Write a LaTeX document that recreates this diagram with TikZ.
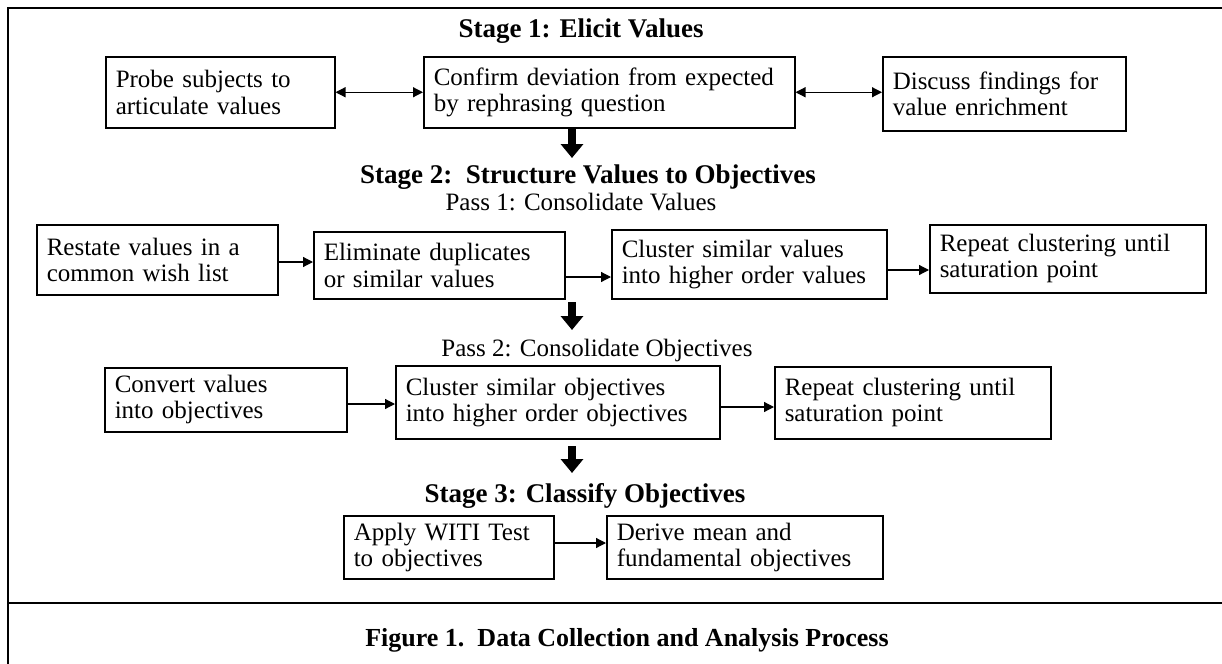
\documentclass[tikz,border=0pt]{standalone}
\usepackage{fontspec}
\setmainfont{Liberation Serif}
\usetikzlibrary{arrows.meta}
\newcommand{\boxfont}{\fontsize{12.5}{13.2}\selectfont}
\newcommand{\headfont}{\fontsize{13.5}{15}\selectfont\bfseries}
\begin{document}
\begin{tikzpicture}[x=0.5pt, y=-0.5pt,
  box/.style={draw, line width=0.75pt, anchor=north west, align=left, inner xsep=5pt, inner ysep=0pt, font=\boxfont},
  head/.style={font=\headfont, inner sep=0pt},
  pass/.style={font=\boxfont, inner sep=0pt},
  frame/.style={line width=1.3pt},
  arr/.style={line width=0.6pt, -{Triangle[length=5pt,width=5pt]}},
  dblarr/.style={line width=0.6pt, {Triangle[length=5pt,width=5pt]}-{Triangle[length=5pt,width=5pt]}},
  bigarr/.style={line width=4pt, -{Triangle[length=7pt,width=11pt]}}]
\useasboundingbox (0,0) rectangle (1222,664);
\draw[frame] (1222,8) -- (8,8) -- (8,664);
\draw[frame] (8,603) -- (1222,603);
\node[head] (stage1) at (581,31) {Stage 1: Elicit Values};
\node[box, text width=104.5pt, minimum height=35.5pt] (probe) at (105,56) {Probe subjects to\\articulate values};
\node[box, text width=175.5pt, minimum height=35.5pt] (confirm) at (423,56) {Confirm deviation from expected\\by rephrasing question};
\node[box, text width=111.5pt, minimum height=37pt] (discuss) at (882,56) {Discuss findings for\\value enrichment};
\draw[dblarr] (probe) -- (confirm);
\draw[dblarr] (confirm.east) -- (confirm.east -| discuss.west);
\coordinate (d1a) at (572,127);
\coordinate (d1b) at (572,158);
\draw[bigarr] (d1a) -- (d1b);
\node[head] (stage2) at (588,177) {Stage 2:\ \ Structure Values to Objectives};
\node[pass] (pass1) at (581,202) {Pass 1: Consolidate Values};
\node[box, text width=110.5pt, minimum height=35pt] (restate) at (36,224) {Restate values in a\\common wish list};
\node[box, text width=115.5pt, minimum height=33.5pt] (eliminate) at (313,231) {Eliminate duplicates\\or similar values};
\node[box, text width=127.5pt, minimum height=34.5pt] (clustval) at (611,229) {Cluster similar values\\into higher order values};
\node[box, text width=128pt, minimum height=34pt] (repeatval) at (929,224) {Repeat clustering until\\saturation point};
\draw[arr] (restate.east |- 0,262) -- (eliminate.west |- 0,262);
\draw[arr] (eliminate.east |- 0,277) -- (clustval.west |- 0,277);
\draw[arr] (clustval.east |- 0,270) -- (repeatval.west |- 0,270);
\coordinate (d2a) at (572,302);
\coordinate (d2b) at (572,330);
\draw[bigarr] (d2a) -- (d2b);
\node[pass] (pass2) at (597,350) {Pass 2: Consolidate Objectives};
\node[box, text width=111pt, minimum height=32pt] (convert) at (104,367) {Convert values\\into objectives};
\node[box, text width=152pt, minimum height=36.5pt] (clustobj) at (395,365) {Cluster similar objectives\\into higher order objectives};
\node[box, text width=128pt, minimum height=36pt] (repeatobj) at (774,366) {Repeat clustering until\\saturation point};
\draw[arr] (convert.east |- 0,404) -- (clustobj.west |- 0,404);
\draw[arr] (clustobj.east |- 0,407) -- (repeatobj.west |- 0,407);
\coordinate (d3a) at (572,446);
\coordinate (d3b) at (572,473);
\draw[bigarr] (d3a) -- (d3b);
\node[head] (stage3) at (585,496) {Stage 3: Classify Objectives};
\node[box, text width=95pt, minimum height=31.5pt] (witi) at (343,515) {Apply WITI Test\\to objectives};
\node[box, text width=128pt, minimum height=31.5pt] (derive) at (606,515) {Derive mean and\\fundamental objectives};
\draw[arr] (witi.east |- 0,543) -- (derive.west |- 0,543);
\node[font=\fontsize{13}{15}\selectfont\bfseries, inner sep=0pt] (caption) at (627,640) {Figure 1.\ \ Data Collection and Analysis Process};
\end{tikzpicture}
\end{document}
